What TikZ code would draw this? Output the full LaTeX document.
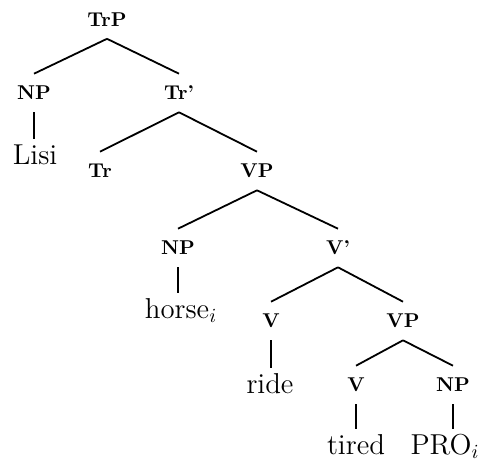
\documentclass[tikz,border=0pt]{standalone}
\usepackage{tikz}

\begin{document}
\begin{tikzpicture}[x=0.5pt, y=-0.5pt,
  cat/.style={font=\fontsize{10}{11}\selectfont\bfseries, inner xsep=1pt, inner ysep=6pt,
    text height=6.9pt, text depth=0pt},
  word/.style={font=\fontsize{14.4}{16}\selectfont, anchor=base, inner xsep=1pt, inner ysep=2.5pt,
    text height=10pt, text depth=0pt},
  branch/.style={line width=0.9pt}]

% Frame
\useasboundingbox (0,0) rectangle (490,460);

% Top level
\node[cat] (trp) at (107,19.5) {TrP};
\node[cat] (np1) at (34,93) {NP};
\node[cat] (trbar) at (179,93) {Tr'};
\node[word] (lisi) at (35,164) {Lisi};

% Tr' level
\node[cat] (tr) at (100,171) {Tr};
\node[cat] (vp1) at (257,171) {VP};

% VP level
\node[cat] (np2) at (178,248) {NP};
\node[cat] (vbar) at (338,248) {V'};
\node[word] (horse) at (181,318) {horse$_i$};

% V' level
\node[cat] (v1) at (271,321) {V};
\node[cat] (vp2) at (403,321) {VP};
\node[word] (ride) at (270,393) {ride};

% Lower VP
\node[cat] (v2) at (356,385) {V};
\node[cat] (np3) at (453,385) {NP};
\node[word] (tired) at (356,454) {tired};
\node[word] (pro) at (445,454) {PRO$_i$};

% Branches
\draw[branch] (trp.south) -- (np1.north);
\draw[branch] (trp.south) -- (trbar.north);
\draw[branch] (np1.south) -- (np1.south |- lisi.north);
\draw[branch] (trbar.south) -- (tr.north);
\draw[branch] (trbar.south) -- (vp1.north);
\draw[branch] (vp1.south) -- (np2.north);
\draw[branch] (vp1.south) -- (vbar.north);
\draw[branch] (np2.south) -- (np2.south |- horse.north);
\draw[branch] (vbar.south) -- (v1.north);
\draw[branch] (vbar.south) -- (vp2.north);
\draw[branch] (v1.south) -- (v1.south |- ride.north);
\draw[branch] (vp2.south) -- (v2.north);
\draw[branch] (vp2.south) -- (np3.north);
\draw[branch] (v2.south) -- (v2.south |- tired.north);
\draw[branch] (np3.south) -- (np3.south |- pro.north);

\end{tikzpicture}
\end{document}
